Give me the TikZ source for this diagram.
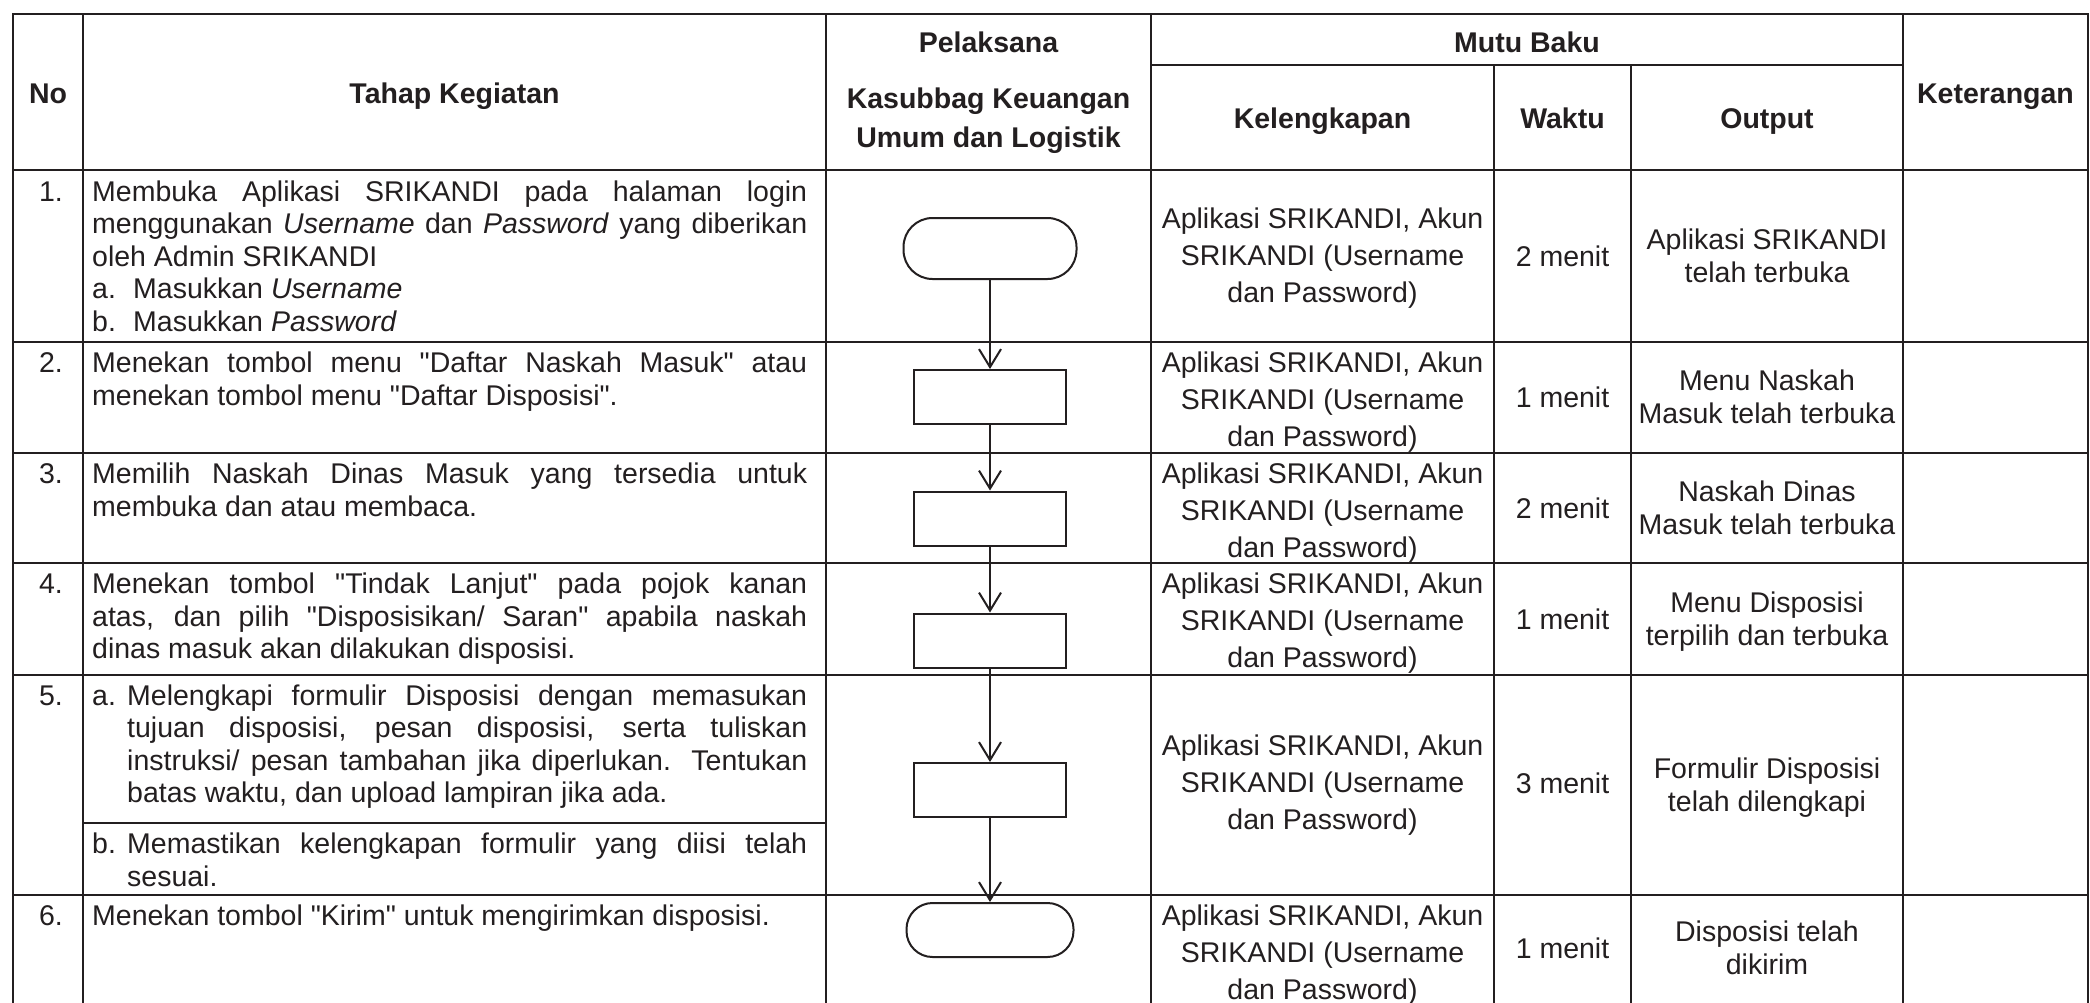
\documentclass[tikz,border=0pt]{standalone}
\usepackage{fontspec}
\setmainfont{Liberation Sans}[Ligatures=TeXOff]
\usetikzlibrary{arrows.meta}
\definecolor{ink}{RGB}{35,31,32}
\setlength{\parindent}{0pt}
\begin{document}
\begin{tikzpicture}[x=1pt,y=-1pt,
  grid/.style={draw=ink, line width=2.7pt, line cap=rect},
  hd/.style={inner sep=0pt, text=ink, align=center, font=\fontsize{28.5}{39}\selectfont\bfseries},
  num/.style={inner sep=0pt, text=ink, anchor=base east, font=\fontsize{28.5}{32.5}\selectfont},
  tah/.style={inner sep=0pt, text=ink, anchor=north west, text width=715pt, align=justify, font=\fontsize{28.5}{32.5}\selectfont},
  cell/.style={inner sep=0pt, text=ink, anchor=north, align=center, font=\fontsize{28.5}{37}\selectfont},
  outc/.style={inner sep=0pt, text=ink, anchor=north, align=center, font=\fontsize{28.5}{33}\selectfont},
  wkt/.style={inner sep=0pt, text=ink, anchor=base, font=\fontsize{28.5}{37}\selectfont},
  term/.style={draw=ink, line width=2pt, inner sep=0pt},
  proc/.style={draw=ink, line width=2pt, inner sep=0pt, minimum width=152pt, minimum height=54pt},
  flow/.style={draw=ink, line width=2pt, -{Straight Barb[length=18pt,width=22pt]}}
]
\useasboundingbox (0,0) rectangle (2090,1002);
\fill[white] (0,0) rectangle (2090,1002);

% ---------- table grid ----------
\draw[grid] (13,14) -- (2088,14);
\draw[grid] (1151,65) -- (1903,65);
\foreach \yy in {170,342,453,563,675,895}
  \draw[grid] (13,\yy) -- (2088,\yy);
\draw[grid] (83,823) -- (826,823);
\foreach \xx in {13,83,826,1151,1903,2088}
  \draw[grid] (\xx,14) -- (\xx,1002);
\foreach \xx in {1494,1631}
  \draw[grid] (\xx,65) -- (\xx,1002);

% ---------- header ----------
\node[hd, anchor=base] (hNo) at (48,103.5) {No};
\node[hd, anchor=base] (hTahap) at (454.5,103.5) {Tahap Kegiatan};
\node[hd, anchor=base] (hPel) at (988.5,52) {Pelaksana};
\node[hd, anchor=north] (hKas) at (988.5,{108.5-27.3}) {\strut Kasubbag Keuangan\\Umum dan Logistik};
\node[hd, anchor=base] (hMutu) at (1527,52) {Mutu Baku};
\node[hd, anchor=base] (hKel) at (1322.5,128.5) {Kelengkapan};
\node[hd, anchor=base] (hWak) at (1562.5,128.5) {Waktu};
\node[hd, anchor=base] (hOut) at (1767,128.5) {Output};
\node[hd, anchor=base] (hKet) at (1995.5,103.5) {Keterangan};

% ---------- numbers ----------
\node[num] (n1) at (63,201) {1.};
\node[num] (n2) at (63,372.5) {2.};
\node[num] (n3) at (63,483.5) {3.};
\node[num] (n4) at (63,593.5) {4.};
\node[num] (n5) at (63,705) {5.};
\node[num] (n6) at (63,925.5) {6.};

% ---------- tahap kegiatan ----------
\node[tah] (s1) at (92,{201-22.75})
 {\strut Membuka Aplikasi SRIKANDI pada halaman login\linebreak
  menggunakan \textit{Username} dan \textit{Password} yang diberikan\linebreak
  oleh Admin SRIKANDI\par
  \makebox[41pt][l]{a.}Masukkan \textit{Username}\par
  \makebox[41pt][l]{b.}Masukkan \textit{Password}};
\node[tah] (s2) at (92,{372.5-22.75})
 {\strut Menekan tombol menu "Daftar Naskah Masuk" atau\linebreak
  menekan tombol menu "Daftar Disposisi".};
\node[tah] (s3) at (92,{483.5-22.75})
 {\strut Memilih Naskah Dinas Masuk yang tersedia untuk\linebreak
  membuka dan atau membaca.};
\node[tah] (s4) at (92,{593.5-22.75})
 {\strut Menekan tombol "Tindak Lanjut" pada pojok kanan\linebreak
  atas, dan pilih "Disposisikan/ Saran" apabila naskah\linebreak
  dinas masuk akan dilakukan disposisi.};
\node[tah] (s5a) at (92,{705-22.75})
 {\makebox[35pt][l]{a.}\parbox[t]{680pt}{\strut Melengkapi formulir Disposisi dengan memasukan\linebreak
  tujuan disposisi, pesan disposisi, serta tuliskan\linebreak
  instruksi/ pesan tambahan jika diperlukan. Tentukan\linebreak
  batas waktu, dan upload lampiran jika ada.}};
\node[tah] (s5b) at (92,{853.5-22.75})
 {\makebox[35pt][l]{b.}\parbox[t]{680pt}{\strut Memastikan kelengkapan formulir yang diisi telah\linebreak
  sesuai.}};
\node[tah] (s6) at (92,{925.5-22.75})
 {\strut Menekan tombol "Kirim" untuk mengirimkan disposisi.};

% ---------- kelengkapan ----------
\node[cell] (k1) at (1322.5,{228.5-25.9}) {\strut Aplikasi SRIKANDI, Akun\\SRIKANDI (Username\\dan Password)};
\node[cell] (k2) at (1322.5,{372-25.9}) {\strut Aplikasi SRIKANDI, Akun\\SRIKANDI (Username\\dan Password)};
\node[cell] (k3) at (1322.5,{483-25.9}) {\strut Aplikasi SRIKANDI, Akun\\SRIKANDI (Username\\dan Password)};
\node[cell] (k4) at (1322.5,{593-25.9}) {\strut Aplikasi SRIKANDI, Akun\\SRIKANDI (Username\\dan Password)};
\node[cell] (k5) at (1322.5,{755-25.9}) {\strut Aplikasi SRIKANDI, Akun\\SRIKANDI (Username\\dan Password)};
\node[cell] (k6) at (1322.5,{925-25.9}) {\strut Aplikasi SRIKANDI, Akun\\SRIKANDI (Username\\dan Password)};

% ---------- waktu ----------
\node[wkt] (w1) at (1562.5,266) {2 menit};
\node[wkt] (w2) at (1562.5,407.5) {1 menit};
\node[wkt] (w3) at (1562.5,518) {2 menit};
\node[wkt] (w4) at (1562.5,629) {1 menit};
\node[wkt] (w5) at (1562.5,793) {3 menit};
\node[wkt] (w6) at (1562.5,958) {1 menit};

% ---------- output ----------
\node[outc] (o1) at (1767,{249-23.1}) {\strut Aplikasi SRIKANDI\\telah terbuka};
\node[outc] (o2) at (1767,{390.5-23.1}) {\strut Menu Naskah\\Masuk telah terbuka};
\node[outc] (o3) at (1767,{501-23.1}) {\strut Naskah Dinas\\Masuk telah terbuka};
\node[outc] (o4) at (1767,{612-23.1}) {\strut Menu Disposisi\\terpilih dan terbuka};
\node[outc] (o5) at (1767,{778-23.1}) {\strut Formulir Disposisi\\telah dilengkapi};
\node[outc] (o6) at (1767,{941-23.1}) {\strut Disposisi telah\\dikirim};

% ---------- flowchart ----------
\node[term, minimum width=173pt, minimum height=61pt, rounded corners=29pt] (t1) at (990,248.5) {};
\node[proc] (b2) at (990,397) {};
\node[proc] (b3) at (990,518.5) {};
\node[proc] (b4) at (990,640.5) {};
\node[proc] (b5) at (990,790) {};
\node[term, minimum width=167pt, minimum height=54pt, rounded corners=26pt] (t6) at (990,930) {};

\draw[flow] (t1) -- (b2);
\draw[flow] (b2) -- (b3);
\draw[flow] (b3) -- (b4);
\draw[flow] (b4) -- (b5);
\draw[flow] (b5) -- (t6);
\end{tikzpicture}
\end{document}
